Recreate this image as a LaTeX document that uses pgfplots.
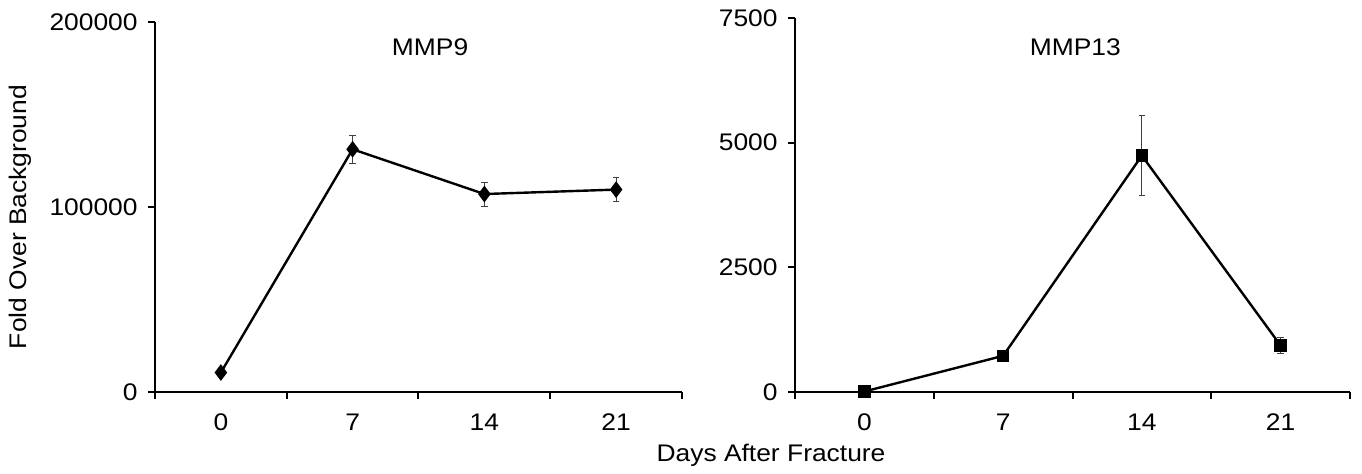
\documentclass[border=0pt]{standalone}
\usepackage{fontspec}
\setmainfont[FakeStretch=1.1]{Liberation Sans}
\usepackage{pgfplots}
\pgfplotsset{compat=1.18}
\begin{document}
\fontsize{12}{14}\selectfont
\begin{tikzpicture}
\useasboundingbox (0pt,0pt) rectangle (681pt,237pt);
\pgfplotsset{
 panel/.style={
  scale only axis,
  axis x line=bottom, axis y line=left,
  axis line style={-, line width=1pt, black},
  xmin=-0.5, xmax=3.5,
  xtick={0,1,2,3}, xticklabels={0,7,14,21},
  major x tick style={draw=none},
  extra x ticks={-0.5,0.5,1.5,2.5,3.5}, extra x tick labels={},
  extra x tick style={major tick length=3.5pt, tick align=outside, major x tick style={draw=black, line width=1pt}},
  ytick align=outside,
  y tick style={line width=1pt, black},
  major tick length=3.5pt,
  scaled y ticks=false,
  yticklabel style={/pgf/number format/fixed, /pgf/number format/1000 sep={}, /pgf/number format/assume math mode=true, xshift=-1pt},
  xticklabel style={/pgf/number format/assume math mode=true, yshift=-5pt},
  tick label style={font=\fontsize{12}{14}\selectfont},
  clip=false,
 },
 series/.style={black, line width=1.2pt, mark options={solid, fill=black},
   error bars/error bar style={line width=0.5pt, black!75},
   error bars/error mark options={rotate=90, mark size=1.6pt, line width=0.5pt, black!75}},
}
\begin{axis}[panel, at={(77.5pt,41pt)}, anchor=south west, width=263.5pt, height=185pt,
  ymin=0, ymax=200000, ytick={0,100000,200000}]
\addplot[series, mark=diamond*, mark size=3.2pt] plot[error bars/.cd, y dir=both, y explicit]
 table[x=x, y=y, y error=e]{
x y e
0 10500 0
1 131200 7700
2 107000 6500
3 109400 6400
};
\node[font=\fontsize{12}{14}\selectfont] at (rel axis cs:0.522,0.932) {MMP9};
\end{axis}
\begin{axis}[panel, at={(397.5pt,41pt)}, anchor=south west, width=277.5pt, height=187pt,
  ymin=0, ymax=7500, ytick={0,2500,5000,7500}]
\addplot[series, mark=square*, mark size=2.5pt] plot[error bars/.cd, y dir=both, y explicit]
 table[x=x, y=y, y error=e]{
x y e
0 10 0
1 725 90
2 4740 800
3 932 155
};
\node[font=\fontsize{12}{14}\selectfont] at (rel axis cs:0.505,0.922) {MMP13};
\end{axis}
\node[rotate=90, font=\fontsize{12}{14}\selectfont] at (10pt,128.5pt) {Fold Over Background};
\node[font=\fontsize{12}{14}\selectfont] at (385.5pt,9.5pt) {Days After Fracture};
\end{tikzpicture}
\end{document}
